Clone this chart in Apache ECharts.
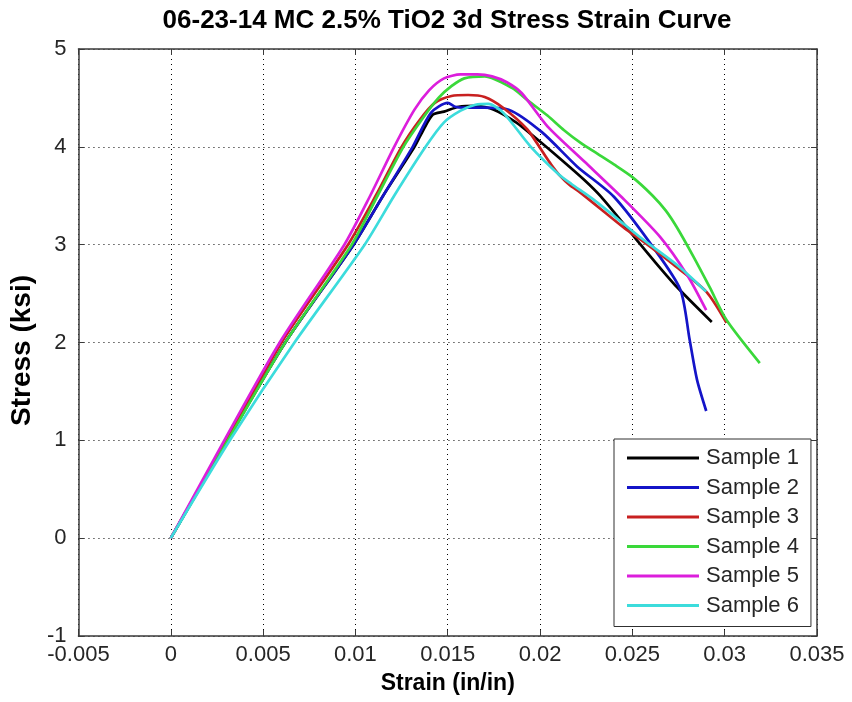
<!DOCTYPE html>
<html>
<head>
<meta charset="utf-8">
<script src="https://cdn.jsdelivr.net/npm/echarts@6/dist/echarts.min.js"></script>
<style>
html,body{margin:0;padding:0;background:#fff;}
#chart{width:852px;height:702px;}
</style>
</head>
<body>
<div id="chart"></div>
<script>
// ---- Data ----
const sampleNames = ['Sample 1','Sample 2','Sample 3','Sample 4','Sample 5','Sample 6'];

const s1Strain = [0, 0.0030, 0.0062, 0.0099, 0.0115, 0.0132, 0.0137, 0.0142, 0.0148, 0.0156, 0.0165, 0.0175, 0.0187, 0.0197, 0.0212, 0.0224, 0.0233, 0.0251, 0.0262, 0.0274, 0.0293];
const s1Stress = [0, 0.98, 2.00, 3.00, 3.50, 4.00, 4.18, 4.33, 4.36, 4.41, 4.42, 4.38, 4.25, 4.10, 3.86, 3.66, 3.49, 3.08, 2.83, 2.57, 2.21];

const s2Strain = [0, 0.0030, 0.0062, 0.0099, 0.0115, 0.0131, 0.0141, 0.0150, 0.0154, 0.0159, 0.0170, 0.0183, 0.0201, 0.0220, 0.0240, 0.0261, 0.0276, 0.0281, 0.0285, 0.0290];
const s2Stress = [0, 0.98, 2.00, 3.00, 3.50, 4.00, 4.35, 4.45, 4.41, 4.40, 4.40, 4.38, 4.15, 3.80, 3.49, 2.98, 2.54, 2.03, 1.62, 1.30];

const s3Strain = [0, 0.0030, 0.0060, 0.0096, 0.0111, 0.0125, 0.0135, 0.0143, 0.0152, 0.0161, 0.0170, 0.0180, 0.0193, 0.0201, 0.0206, 0.0211, 0.0216, 0.0222, 0.0247, 0.0256, 0.0272, 0.0290, 0.0301];
const s3Stress = [0, 1.00, 2.00, 3.00, 3.50, 4.00, 4.28, 4.45, 4.52, 4.53, 4.51, 4.40, 4.18, 3.96, 3.82, 3.70, 3.61, 3.53, 3.15, 3.03, 2.80, 2.52, 2.20];

const s4Strain = [0, 0.0030, 0.0061, 0.0098, 0.0112, 0.0126, 0.0136, 0.0145, 0.0152, 0.0159, 0.0170, 0.0185, 0.0193, 0.0204, 0.0213, 0.0222, 0.0231, 0.0240, 0.0250, 0.0261, 0.0268, 0.0274, 0.0283, 0.0292, 0.0301, 0.0319];
const s4Stress = [0, 0.97, 1.97, 3.00, 3.50, 4.00, 4.28, 4.50, 4.62, 4.70, 4.72, 4.60, 4.48, 4.32, 4.17, 4.04, 3.93, 3.82, 3.69, 3.50, 3.35, 3.18, 2.88, 2.56, 2.23, 1.79];

const s5Strain = [0, 0.0029, 0.0059, 0.0094, 0.0108, 0.0121, 0.0132, 0.0140, 0.0148, 0.0157, 0.0166, 0.0174, 0.0182, 0.0190, 0.0204, 0.0224, 0.0244, 0.0265, 0.0280, 0.0290];
const s5Stress = [0, 1.00, 2.00, 3.00, 3.50, 4.00, 4.38, 4.58, 4.70, 4.74, 4.74, 4.72, 4.66, 4.55, 4.21, 3.85, 3.49, 3.08, 2.68, 2.33];

const s6Strain = [0, 0.0032, 0.0067, 0.0105, 0.0121, 0.0138, 0.0148, 0.0157, 0.0165, 0.0172, 0.0180, 0.0195, 0.0210, 0.0217, 0.0229, 0.0256, 0.0275, 0.0290];
const s6Stress = [0, 1.00, 2.00, 3.00, 3.50, 4.00, 4.25, 4.37, 4.43, 4.44, 4.35, 4.00, 3.72, 3.62, 3.46, 3.05, 2.78, 2.52];

const xTicks = [-0.005, 0, 0.005, 0.01, 0.015, 0.02, 0.025, 0.03, 0.035];
const yTicks = [-1, 0, 1, 2, 3, 4, 5];

const strains = [s1Strain, s2Strain, s3Strain, s4Strain, s5Strain, s6Strain];
const stresses = [s1Stress, s2Stress, s3Stress, s4Stress, s5Stress, s6Stress];
const colors = ['#000000', '#1414c8', '#c82020', '#3ad83a', '#dc1edc', '#3cdcdc'];

const FONT = '"Liberation Sans", Arial, Helvetica, sans-serif';
const AXIS_COLOR = '#3a3a3a';
const LABEL_COLOR = '#262626';

function fmt(v){ return String(parseFloat(Number(v).toFixed(4))); }

const series = sampleNames.map((name, i) => ({
  name: name,
  type: 'line',
  xAxisIndex: 0,
  yAxisIndex: 0,
  showSymbol: false,
  symbol: 'none',
  smooth: 0.25,
  lineStyle: { color: colors[i], width: 2.7 },
  itemStyle: { color: colors[i] },
  data: strains[i].map((x, k) => [x, stresses[i][k]])
}));

const chart = echarts.init(document.getElementById('chart'), null, { renderer: 'canvas' });
chart.setOption({
  animation: false,
  backgroundColor: '#ffffff',
  title: {
    text: '06-23-14 MC 2.5% TiO2 3d Stress Strain Curve',
    left: 447, top: 8, textAlign: 'center', padding: 0,
    textStyle: { fontFamily: FONT, fontWeight: 'bold', fontSize: 26, color: '#000' }
  },
  grid: { left: 76, right: 35, top: 49, bottom: 66, containLabel: false },
  legend: {
    orient: 'vertical',
    left: 614, top: 439,
    data: sampleNames,
    icon: 'rect',
    itemWidth: 72, itemHeight: 3,
    itemGap: 5.5,
    padding: [7, 12, 9, 13],
    backgroundColor: '#ffffff',
    borderColor: '#303030', borderWidth: 1, borderRadius: 0,
    textStyle: { fontFamily: FONT, fontSize: 22, color: LABEL_COLOR, lineHeight: 24, padding: [0,0,0,2] }
  },
  xAxis: [{
    type: 'value', min: xTicks[0], max: xTicks[xTicks.length-1], interval: 0.005,
    position: 'bottom',
    name: 'Strain (in/in)', nameLocation: 'middle', nameGap: 36,
    nameTextStyle: { fontFamily: FONT, fontWeight: 'bold', fontSize: 23, color: '#000' },
    axisLine: { show: true, onZero: false, lineStyle: { color: AXIS_COLOR, width: 1.5 } },
    axisTick: { show: true, inside: true, length: 6, lineStyle: { color: AXIS_COLOR } },
    axisLabel: { fontFamily: FONT, fontSize: 22, color: LABEL_COLOR, margin: 8, formatter: fmt },
    splitLine: { show: true, lineStyle: { type: [1, 4], color: '#000', width: 1 } }
  }, {
    type: 'value', min: xTicks[0], max: xTicks[xTicks.length-1], interval: 0.005,
    position: 'top',
    axisLine: { show: true, onZero: false, lineStyle: { color: AXIS_COLOR, width: 1.5 } },
    axisTick: { show: true, inside: true, length: 6, lineStyle: { color: AXIS_COLOR } },
    axisLabel: { show: false },
    splitLine: { show: false }
  }],
  yAxis: [{
    type: 'value', min: yTicks[0], max: yTicks[yTicks.length-1], interval: 1,
    position: 'left',
    name: 'Stress (ksi)', nameLocation: 'middle', nameGap: 38, nameRotate: 90,
    nameTextStyle: { fontFamily: FONT, fontWeight: 'bold', fontSize: 28, color: '#000', padding: [0, 16, 0, 0] },
    axisLine: { show: true, onZero: false, lineStyle: { color: AXIS_COLOR, width: 1.5 } },
    axisTick: { show: true, inside: true, length: 6, lineStyle: { color: AXIS_COLOR } },
    axisLabel: { fontFamily: FONT, fontSize: 22, color: LABEL_COLOR, margin: 12, formatter: fmt },
    splitLine: { show: true, lineStyle: { type: [1, 4], color: '#000', width: 1 } }
  }, {
    type: 'value', min: yTicks[0], max: yTicks[yTicks.length-1], interval: 1,
    position: 'right',
    axisLine: { show: true, onZero: false, lineStyle: { color: AXIS_COLOR, width: 1.5 } },
    axisTick: { show: true, inside: true, length: 6, lineStyle: { color: AXIS_COLOR } },
    axisLabel: { show: false },
    splitLine: { show: false }
  }],
  series: series
});
</script>
</body>
</html>
